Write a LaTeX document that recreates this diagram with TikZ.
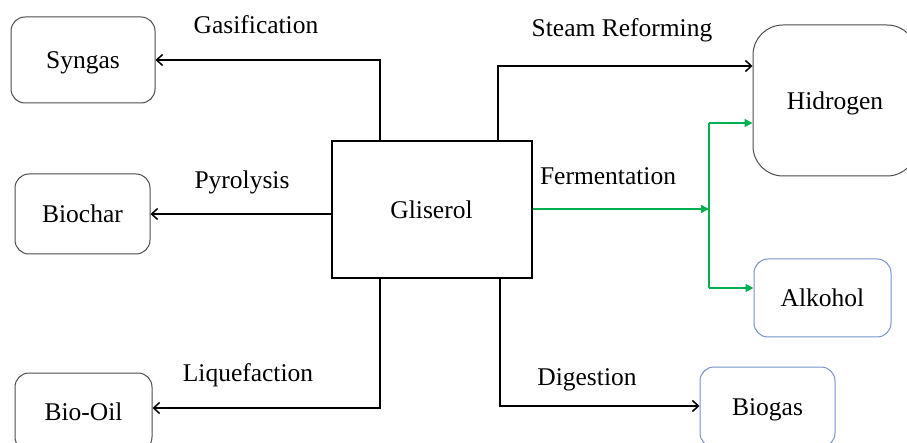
\documentclass[tikz,border=0pt]{standalone}
\usepackage{fontspec}
\setmainfont{Liberation Serif}
\usetikzlibrary{arrows.meta}
\definecolor{fermgreen}{RGB}{0,176,80}
\definecolor{boxblue}{RGB}{120,145,200}
\begin{document}
\begin{tikzpicture}[x=1pt,y=-1pt,>={Straight Barb[length=6pt,width=11pt]},font=\fontsize{25.5}{30}\selectfont]
        \tikzstyle{product}=[draw=black!70,line width=1pt,rounded corners=14pt,text depth=0pt]
        \tikzstyle{source}=[draw=black,line width=2pt,minimum width=200pt,minimum height=137pt,text depth=0pt]
        \tikzstyle{edge}=[draw,->,line width=1.5pt]
        \tikzstyle{fedge}=[draw,-{Triangle[length=8pt,width=8pt]},line width=1.5pt,fermgreen]
        \clip (0,0) rectangle (907,443);
       \begin{scope}
         \node [source] (gli) at (431.5,209.5) {Gliserol};
         \node [product,minimum width=144pt,minimum height=86pt] (syn) at (83,60) {Syngas};
         \node [product,minimum width=135pt,minimum height=80pt] (bch) at (82.5,214) {Biochar};
         \node [product,minimum width=137pt,minimum height=78pt] (oil) at (83.5,412) {Bio-Oil};
         \node [product,minimum width=164pt,minimum height=151pt,rounded corners=30pt] (hid) at (835,100.5) {Hidrogen};
         \node [product,draw=boxblue,minimum width=137pt,minimum height=78pt] (alk) at (822.5,298) {Alkohol};
         \node [product,draw=boxblue,minimum width=135pt,minimum height=80pt] (bgs) at (767.5,407) {Biogas};
         \node (gaslbl) at (256,25) {Gasification};
         \node (pyrlbl) at (242,182) {Pyrolysis};
         \node (liqlbl) at (248,375) {Liquefaction};
         \node (stmlbl) at (622,30) {Steam Reforming};
         \node (ferlbl) at (608,176) {Fermentation};
         \node (diglbl) at (587,380) {Digestion};
         \coordinate (gasup) at (380,60);
         \coordinate (stmup) at (498,66);
         \coordinate (liqdown) at (380,408);
         \coordinate (digdown) at (500,406);
         \coordinate (fmid) at (709,209);
         \coordinate (ftop) at (709,123);
         \coordinate (fbot) at (709,288);
         \path[edge] (gli.north -| gasup) -- (gasup) -- (syn.east);
         \path[edge] (gli.west |- bch.east) -- (bch.east);
         \path[edge] (gli.south -| liqdown) -- (liqdown) -- (oil.east |- liqdown);
         \path[edge] (gli.north -| stmup) -- (stmup) -- (hid.west |- stmup);
         \path[edge] (gli.south -| digdown) -- (digdown) -- (bgs.west |- digdown);
         \path[fedge] (gli.east |- fmid) -- (fmid);
         \draw[fermgreen,line width=1.5pt] (ftop) -- (fbot);
         \path[fedge] (ftop) -- (hid.west |- ftop);
         \path[fedge] (fbot) -- (alk.west |- fbot);
        \end{scope}
      \end{tikzpicture}
\end{document}
